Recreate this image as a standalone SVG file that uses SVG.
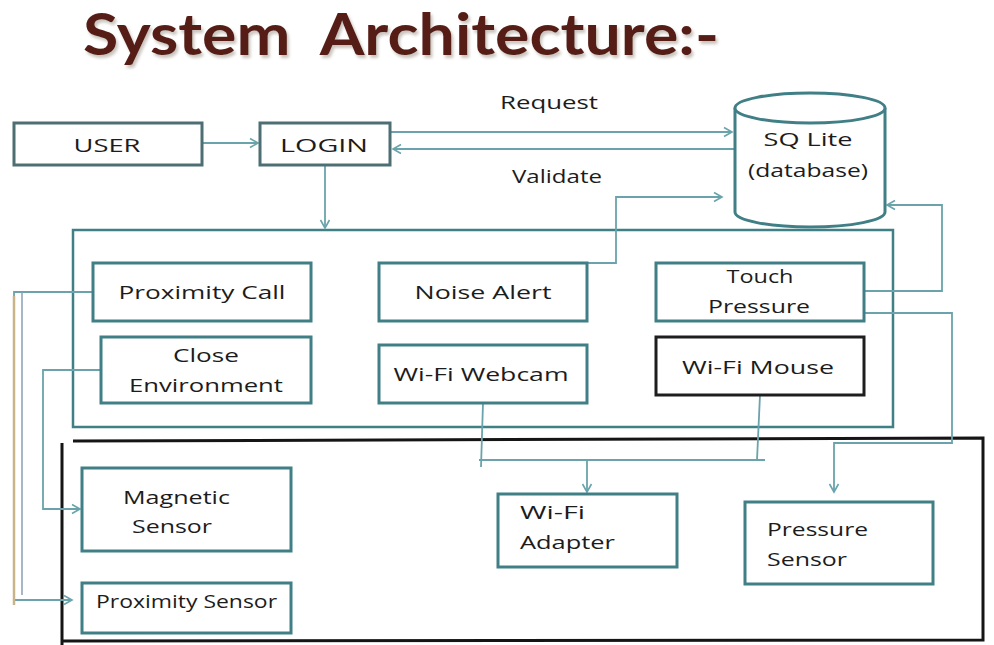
<svg xmlns="http://www.w3.org/2000/svg" width="994" height="645" viewBox="0 0 994 645">
  <defs>
    <marker id="arr" markerWidth="12" markerHeight="12" refX="10" refY="6" orient="auto" markerUnits="userSpaceOnUse">
      <path d="M2,1.5 L10,6 L2,10.5" fill="none" stroke="#6aa3ab" stroke-width="1.6"/>
    </marker>
    <filter id="shadow" x="-5%" y="-20%" width="110%" height="150%">
      <feDropShadow dx="2" dy="3" stdDeviation="1.5" flood-color="#8a7a70" flood-opacity="0.45"/>
    </filter>
    <style>
      .box { fill: #ffffff; stroke: #3f7f85; stroke-width: 3; }
      .dark { fill: #ffffff; stroke: #1e1e1e; stroke-width: 3; }
      .frame { fill: none; stroke: #3f7f85; stroke-width: 2.5; }
      .edge { fill: none; stroke: #6aa3ab; stroke-width: 1.8; }
      .black { fill: none; stroke: #151515; stroke-width: 3; }
      .t { font-family: "Open Sans", "DejaVu Sans", sans-serif; font-size: 19px; fill: #1c1c1c; }
      .c { text-anchor: middle; }
      .title { font-family: Lato, "Liberation Sans", sans-serif; font-weight: bold; font-size: 57px; fill: #561c14; }
    </style>
  </defs>

  <rect width="994" height="645" fill="#ffffff"/>

  <!-- heading -->
  <text class="title" x="83" y="55" textLength="636" lengthAdjust="spacingAndGlyphs" filter="url(#shadow)" xml:space="preserve">System  Architecture:-</text>

  <!-- outer frames -->
  <g id="app-frame">
    <rect class="frame" x="73" y="230" width="820" height="197"/>
  </g>
  <g id="hardware-frame">
    <path class="black" d="M73,441 L983,438 L983,640 L62,641 M62,443 L62,645"/>
  </g>

  <!-- connectors -->
  <g id="connectors">
    <path class="edge" d="M202,143 L258,143" marker-end="url(#arr)"/>
    <path class="edge" d="M390,132 L732,132" marker-end="url(#arr)"/>
    <path class="edge" d="M736,149 L393,149" marker-end="url(#arr)"/>
    <path class="edge" d="M325,165 L325,228" marker-end="url(#arr)"/>
    <path class="edge" d="M587,263 L616,263 L616,197 L722,197" marker-end="url(#arr)"/>
    <path class="edge" d="M864,291 L942,291 L942,205 L887,205" marker-end="url(#arr)"/>
    <path class="edge" d="M864,313 L952,313 L952,443 L834,443 L834,492" marker-end="url(#arr)"/>
    <path class="edge" d="M483,403 L481,467 M479,460 L765,460 M760,395 L757,460"/>
    <path class="edge" d="M587,460 L587,492" marker-end="url(#arr)"/>
    <path class="edge" d="M101,370 L43,370 L43,509 L80,509" marker-end="url(#arr)"/>
    <path class="edge" d="M93,292 L14,292 L14,600 L72,600" marker-end="url(#arr)"/>
    <path d="M22,292 L22,595" fill="none" stroke="#8a9fb8" stroke-width="1.5"/>
    <path d="M14,296 L14,605" fill="none" stroke="#c9b48a" stroke-width="2.5"/>
  </g>

  <!-- nodes -->
  <g id="user">
    <rect class="box" x="14" y="123" width="188" height="42" style="stroke:#4d6f73"/>
    <text class="t c" x="107" y="152" textLength="67" lengthAdjust="spacingAndGlyphs">USER</text>
  </g>
  <g id="login">
    <rect class="box" x="260" y="123" width="130" height="42" style="stroke:#4d6f73"/>
    <text class="t c" x="324" y="152" textLength="88" lengthAdjust="spacingAndGlyphs">LOGIN</text>
  </g>
  <g id="request-label">
    <text class="t" x="500" y="109" textLength="98" lengthAdjust="spacingAndGlyphs">Request</text>
  </g>
  <g id="validate-label">
    <text class="t" x="512" y="183" textLength="90" lengthAdjust="spacingAndGlyphs">Validate</text>
  </g>
  <g id="database">
    <path class="box" d="M735,108 L735,212 A75,15 0 0 0 885,212 L885,108"/>
    <ellipse class="box" cx="810" cy="108" rx="75" ry="15"/>
    <text class="t c" x="808" y="146" textLength="89" lengthAdjust="spacingAndGlyphs">SQ Lite</text>
    <text class="t c" x="808" y="177" textLength="120" lengthAdjust="spacingAndGlyphs">(database)</text>
  </g>

  <g id="proximity-call">
    <rect class="box" x="93" y="263" width="218" height="58"/>
    <text class="t c" x="202" y="299" textLength="167" lengthAdjust="spacingAndGlyphs">Proximity Call</text>
  </g>
  <g id="close-environment">
    <rect class="box" x="101" y="337" width="210" height="66"/>
    <text class="t c" x="206" y="362" textLength="66" lengthAdjust="spacingAndGlyphs">Close</text>
    <text class="t c" x="206" y="392" textLength="154" lengthAdjust="spacingAndGlyphs">Environment</text>
  </g>
  <g id="noise-alert">
    <rect class="box" x="379" y="263" width="208" height="58"/>
    <text class="t c" x="483" y="299" textLength="137" lengthAdjust="spacingAndGlyphs">Noise Alert</text>
  </g>
  <g id="wifi-webcam">
    <rect class="box" x="379" y="345" width="208" height="58"/>
    <text class="t c" x="481" y="381" textLength="175" lengthAdjust="spacingAndGlyphs">Wi-Fi Webcam</text>
  </g>
  <g id="touch-pressure">
    <rect class="box" x="656" y="263" width="208" height="58"/>
    <text class="t c" x="760" y="283" textLength="67" lengthAdjust="spacingAndGlyphs">Touch</text>
    <text class="t c" x="759" y="313" textLength="102" lengthAdjust="spacingAndGlyphs">Pressure</text>
  </g>
  <g id="wifi-mouse">
    <rect class="dark" x="656" y="337" width="208" height="58"/>
    <text class="t c" x="758" y="374" textLength="152" lengthAdjust="spacingAndGlyphs">Wi-Fi Mouse</text>
  </g>

  <g id="magnetic-sensor">
    <rect class="box" x="82" y="468" width="209" height="83"/>
    <text class="t" x="123" y="504" textLength="107" lengthAdjust="spacingAndGlyphs">Magnetic</text>
    <text class="t" x="132" y="533" textLength="80" lengthAdjust="spacingAndGlyphs">Sensor</text>
  </g>
  <g id="proximity-sensor">
    <rect class="box" x="82" y="583" width="209" height="50"/>
    <text class="t" x="96" y="608" textLength="181" lengthAdjust="spacingAndGlyphs">Proximity Sensor</text>
  </g>
  <g id="wifi-adapter">
    <rect class="box" x="498" y="494" width="179" height="73"/>
    <text class="t" x="520" y="519" textLength="65" lengthAdjust="spacingAndGlyphs">Wi-Fi</text>
    <text class="t" x="520" y="549" textLength="95" lengthAdjust="spacingAndGlyphs">Adapter</text>
  </g>
  <g id="pressure-sensor">
    <rect class="box" x="745" y="502" width="188" height="82"/>
    <text class="t" x="767" y="536" textLength="101" lengthAdjust="spacingAndGlyphs">Pressure</text>
    <text class="t" x="767" y="566" textLength="80" lengthAdjust="spacingAndGlyphs">Sensor</text>
  </g>
</svg>
